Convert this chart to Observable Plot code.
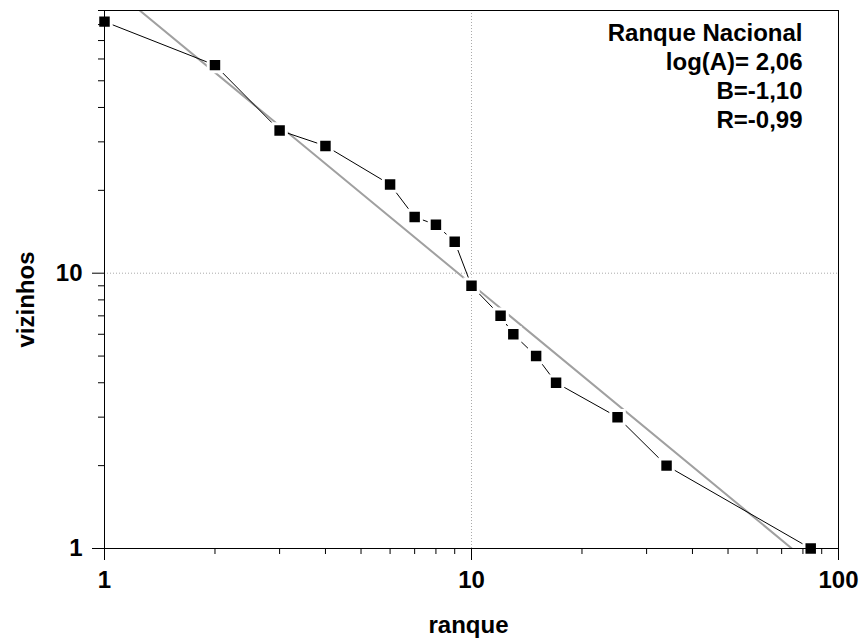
<!DOCTYPE html>
<html>
<head>
<meta charset="utf-8">
<script src="https://cdn.jsdelivr.net/npm/d3@7"></script>
<script src="https://cdn.jsdelivr.net/npm/@observablehq/plot@0.6"></script>
<style>
  html, body { margin: 0; padding: 0; background: #fff; }
</style>
</head>
<body>
<div id="chart"></div>
<script>
// ---- data ----
const ranque   = [1, 2, 3, 4, 6, 7, 8, 9, 10, 12, 13, 15, 17, 25, 34, 84];
const vizinhos = [82, 57, 33, 29, 21, 16, 15, 13, 9, 7, 6, 5, 4, 3, 2, 1];

// fit parameters (from the legend text)
const fitTitle = "Ranque Nacional";
const logA = 2.06;
const B = -1.10;
const R = -0.99;

// axis ticks
const xMajorTicks = [1, 10, 100];
const xMinorTicks = [2, 3, 4, 5, 6, 7, 8, 9, 20, 30, 40, 50, 60, 70, 80, 90];
const yMajorTicks = [1, 10];
const yMinorTicks = [2, 3, 4, 5, 6, 7, 8, 9, 20, 30, 40, 50, 60, 70, 80, 90];
const xDomain = [1, 100];
const yDomain = [1, 90];

const xTitle = "ranque";
const yTitle = "vizinhos";

// ---- derived tables ----
const data = ranque.map((r, i) => ({ranque: r, vizinhos: vizinhos[i]}));
const fmt = v => v.toFixed(2).replace(".", ",");
const annotation = [fitTitle, `log(A)= ${fmt(logA)}`, `B=${fmt(B)}`, `R=${fmt(R)}`].join("\n");
// straight line in log-log space: y = 10^logA * x^B, evaluated at the x-domain ends
const fit = xDomain.map(x => ({x, y: Math.pow(10, logA) * Math.pow(x, B)}));

const font = "'Liberation Sans', Arial, Helvetica, sans-serif";

const chart = Plot.plot({
  width: 863,
  height: 642,
  marginLeft: 104,
  marginRight: 25,
  marginTop: 10,
  marginBottom: 94,
  x: {type: "log", domain: xDomain},
  y: {type: "log", domain: yDomain},
  style: {
    fontFamily: font,
    fontWeight: "bold",
    fontSize: "24px",
    color: "black",
    background: "white",
    overflow: "visible"
  },
  marks: [
    Plot.gridX([10], {stroke: "#aaaaaa", strokeOpacity: 1, strokeDasharray: "1,2", strokeWidth: 1}),
    Plot.gridY([10], {stroke: "#aaaaaa", strokeOpacity: 1, strokeDasharray: "1,2", strokeWidth: 1}),
    Plot.line(fit, {x: "x", y: "y", stroke: "#a0a0a0", strokeWidth: 2, clip: true}),
    Plot.line(data, {x: "ranque", y: "vizinhos", stroke: "black", strokeWidth: 1}),
    Plot.dot(data, {x: "ranque", y: "vizinhos", symbol: "square", r: 7.6, fill: "black", stroke: "white", strokeWidth: 3}),
    Plot.axisX(xMajorTicks, {tickSize: 12, tickPadding: 10, tickFormat: d => String(d), label: null, stroke: "black", fontSize: 24, fontWeight: "bold"}),
    Plot.axisX(xMinorTicks, {tickSize: 6, tickFormat: () => "", label: null, stroke: "black"}),
    Plot.axisY(yMajorTicks, {tickSize: 12, tickPadding: 10, tickFormat: d => String(d), label: null, stroke: "black", fontSize: 24, fontWeight: "bold"}),
    Plot.axisY(yMinorTicks, {tickSize: 6, tickFormat: () => "", label: null, stroke: "black"}),
    Plot.frame({stroke: "black", strokeWidth: 1}),
    Plot.text([annotation], {frameAnchor: "top-right", textAnchor: "end", lineAnchor: "top", lineHeight: 1.2, dx: -36, dy: 10.5, fontSize: 24, fontWeight: "bold", fill: "black"}),
    Plot.text([xTitle], {frameAnchor: "bottom", textAnchor: "middle", lineAnchor: "bottom", dx: -3, dy: 84, fontSize: 24, fontWeight: "bold", fill: "black"}),
    Plot.text([yTitle], {frameAnchor: "left", textAnchor: "middle", lineAnchor: "bottom", rotate: -90, dx: -71, dy: 20, fontSize: 24, fontWeight: "bold", fill: "black"})
  ]
});

document.getElementById("chart").appendChild(chart);
</script>
</body>
</html>
